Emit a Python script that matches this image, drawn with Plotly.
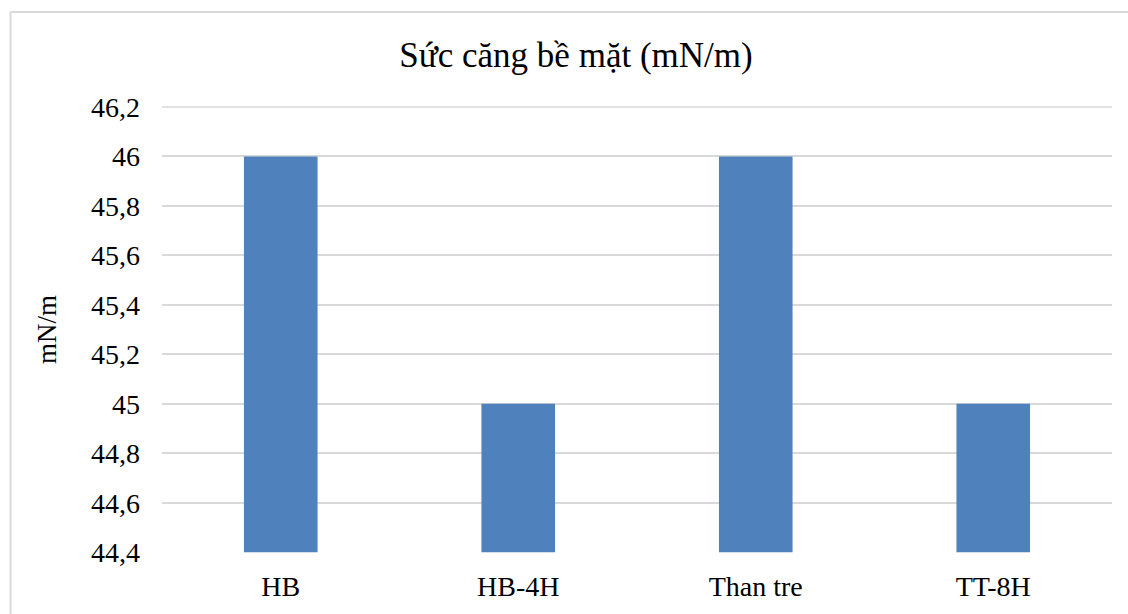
import plotly.graph_objects as go

categories = ["HB", "HB-4H", "Than tre", "TT-8H"]
values = [46, 45, 46, 45]
axis_min, axis_max = 44.4, 46.2
tick_vals = [44.4, 44.6, 44.8, 45.0, 45.2, 45.4, 45.6, 45.8, 46.0, 46.2]
tick_text = ["44,4", "44,6", "44,8", "45", "45,2", "45,4", "45,6", "45,8", "46", "46,2"]

FONT = "Liberation Serif"
GRID = "#d9d9d9"

# plot area in pixels: x 162..1112, y 106..553
L, R, T, B = 162, 16, 106, 61
W, H = 1128, 614
pw, ph = W - L - R, H - T - B

# bars rise from the axis minimum
fig = go.Figure(go.Bar(
    x=categories, y=[v - axis_min for v in values], base=axis_min,
    marker=dict(color="#4f81bd", line=dict(width=0)),
    hoverinfo="skip",
))

border_x = (10.5 - L) / pw
border_y = 1 + (T - 12) / ph

fig.update_layout(
    width=W, height=H,
    margin=dict(l=L, r=R, t=T, b=B),
    paper_bgcolor="white", plot_bgcolor="white",
    bargap=0.69,
    showlegend=False,
    font=dict(family=FONT, color="#000000", size=28),
    title=dict(text="Sức căng bề mặt (mN/m)", x=576 / W, xref="container", xanchor="center",
               y=1 - 55 / H, yanchor="middle",
               font=dict(family=FONT, size=35, color="#000000")),
    xaxis=dict(showgrid=False, showline=False, ticks="",
               tickfont=dict(family=FONT, size=28), ticklabelstandoff=14),
    yaxis=dict(range=[axis_min - 0.003, axis_max + 0.004], tickvals=tick_vals, ticktext=tick_text,
               showgrid=True, gridcolor=GRID, gridwidth=1.5, zeroline=False,
               showline=False, ticks="", tickfont=dict(family=FONT, size=28),
               ticklabelstandoff=21,
               title=dict(text="mN/m", font=dict(family=FONT, size=27), standoff=26)),
    shapes=[
        # chart border (left and top edges)
        dict(type="line", xref="paper", yref="paper", x0=border_x, x1=border_x,
             y0=-1, y1=border_y, line=dict(color=GRID, width=2)),
        dict(type="line", xref="paper", yref="paper", x0=border_x, x1=2,
             y0=border_y, y1=border_y, line=dict(color=GRID, width=2)),
        # top gridline at the axis maximum
        dict(type="line", xref="paper", yref="y", x0=0, x1=1,
             y0=axis_max, y1=axis_max, line=dict(color=GRID, width=1.5), layer="below"),
    ],
)

fig.write_html("out.html")
